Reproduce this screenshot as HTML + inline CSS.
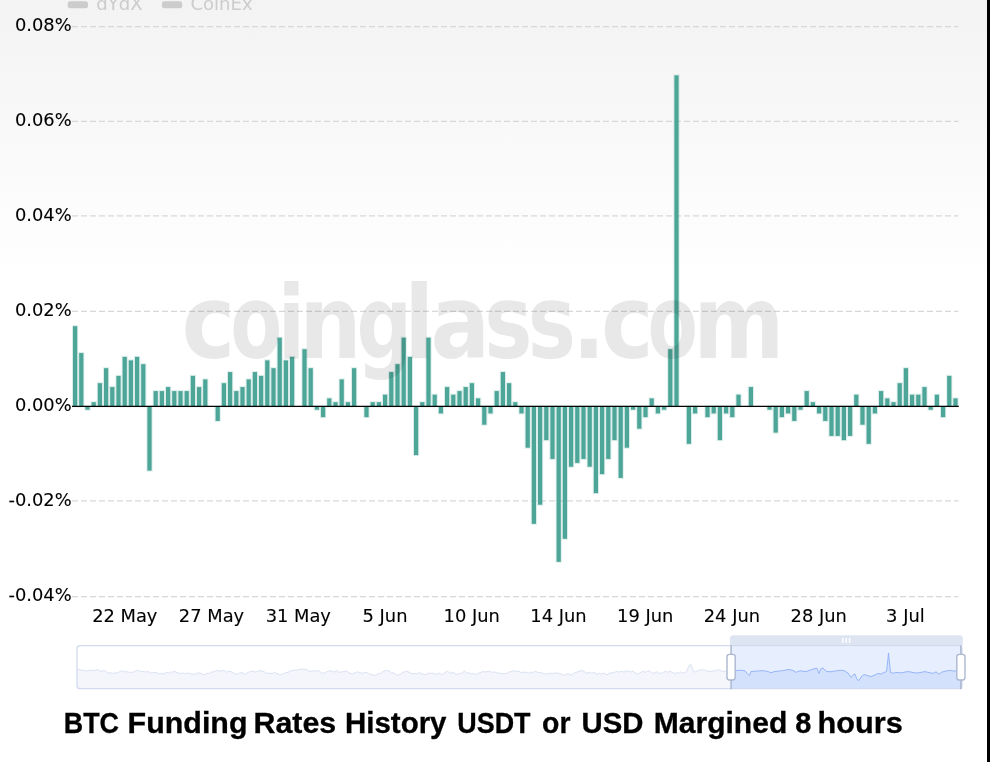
<!DOCTYPE html>
<html lang="en"><head><meta charset="utf-8"><title>BTC Funding Rates History</title>
<style>
html,body{margin:0;padding:0;background:#fff;}
body{width:990px;height:762px;overflow:hidden;position:relative;font-family:"DejaVu Sans","Liberation Sans",sans-serif;}
svg{position:absolute;left:0;top:0;display:block;}
.ax{font-family:"DejaVu Sans","Liberation Sans",sans-serif;font-size:17px;fill:#000;stroke:#000;stroke-width:0.1px;}
.lg{font-family:"DejaVu Sans","Liberation Sans",sans-serif;font-size:17.5px;fill:#ccc;}
.wm{font-family:"DejaVu Sans","Liberation Sans",sans-serif;font-weight:bold;fill:#000;fill-opacity:0.09;}
.tt{font-family:"Liberation Sans","DejaVu Sans",sans-serif;font-weight:bold;font-size:28.8px;fill:#000;stroke:#000;stroke-width:0.3px;}
</style></head><body>
<svg width="990" height="762" viewBox="0 0 990 762">
<defs><linearGradient id="bg" x1="0" y1="0" x2="0" y2="1"><stop offset="0" stop-color="#f3f3f3"/><stop offset="1" stop-color="#ffffff"/></linearGradient></defs>
<rect x="0" y="0" width="990" height="762" fill="#fff"/>
<rect x="0" y="0" width="990" height="278" fill="url(#bg)"/>
<g>
<rect x="67.7" y="1.3" width="20.3" height="7" rx="2.5" fill="#ccc"/>
<text class="lg" transform="translate(96.2,10) scale(1.034,1)">dYdX</text>
<rect x="161.9" y="1.3" width="20.3" height="7" rx="2.5" fill="#ccc"/>
<text class="lg" transform="translate(190.4,10) scale(1.034,1)">CoinEx</text>
</g>
<g stroke="#d8d8d8" stroke-width="1.3" stroke-dasharray="6 3" fill="none">
<line x1="72" y1="26.6" x2="958.5" y2="26.6"/>
<line x1="72" y1="121.3" x2="958.5" y2="121.3"/>
<line x1="72" y1="215.8" x2="958.5" y2="215.8"/>
<line x1="72" y1="311.3" x2="958.5" y2="311.3"/>
<line x1="72" y1="500.9" x2="958.5" y2="500.9"/>
<line x1="72" y1="596.7" x2="958.5" y2="596.7"/>
</g>
<g class="ax" text-anchor="end">
<text transform="translate(71.6,30.6) scale(1.05,1)">0.08%</text>
<text transform="translate(71.6,125.7) scale(1.05,1)">0.06%</text>
<text transform="translate(71.6,220.7) scale(1.05,1)">0.04%</text>
<text transform="translate(71.6,315.7) scale(1.05,1)">0.02%</text>
<text transform="translate(71.6,410.7) scale(1.05,1)">0.00%</text>
<text transform="translate(71.6,505.7) scale(1.05,1)">-0.02%</text>
<text transform="translate(71.6,600.8) scale(1.05,1)">-0.04%</text>
</g>
<g fill="#4da698" stroke="#4da698" stroke-opacity="0.2" stroke-width="2">
<rect x="73.0" y="326.2" width="4.2" height="80.2"/>
<rect x="79.2" y="353.1" width="4.2" height="53.3"/>
<rect x="85.4" y="406.4" width="4.2" height="3.3"/>
<rect x="91.6" y="402.2" width="4.2" height="4.2"/>
<rect x="97.8" y="383.2" width="4.2" height="23.2"/>
<rect x="104.0" y="368.2" width="4.2" height="38.2"/>
<rect x="110.2" y="387.1" width="4.2" height="19.3"/>
<rect x="116.4" y="375.9" width="4.2" height="30.5"/>
<rect x="122.6" y="356.9" width="4.2" height="49.5"/>
<rect x="128.8" y="360.4" width="4.2" height="46.0"/>
<rect x="135.0" y="356.9" width="4.2" height="49.5"/>
<rect x="141.2" y="364.2" width="4.2" height="42.2"/>
<rect x="147.4" y="406.4" width="4.2" height="64.2"/>
<rect x="153.6" y="391.1" width="4.2" height="15.3"/>
<rect x="159.8" y="391.1" width="4.2" height="15.3"/>
<rect x="166.0" y="387.1" width="4.2" height="19.3"/>
<rect x="172.2" y="391.1" width="4.2" height="15.3"/>
<rect x="178.4" y="391.1" width="4.2" height="15.3"/>
<rect x="184.6" y="391.1" width="4.2" height="15.3"/>
<rect x="190.8" y="375.9" width="4.2" height="30.5"/>
<rect x="197.0" y="387.1" width="4.2" height="19.3"/>
<rect x="203.2" y="379.4" width="4.2" height="27.0"/>
<rect x="215.6" y="406.4" width="4.2" height="14.5"/>
<rect x="221.8" y="383.2" width="4.2" height="23.2"/>
<rect x="228.0" y="372.1" width="4.2" height="34.3"/>
<rect x="234.2" y="391.1" width="4.2" height="15.3"/>
<rect x="240.4" y="387.1" width="4.2" height="19.3"/>
<rect x="246.6" y="379.4" width="4.2" height="27.0"/>
<rect x="252.8" y="372.1" width="4.2" height="34.3"/>
<rect x="259.0" y="375.9" width="4.2" height="30.5"/>
<rect x="265.2" y="360.4" width="4.2" height="46.0"/>
<rect x="271.4" y="368.2" width="4.2" height="38.2"/>
<rect x="277.6" y="337.7" width="4.2" height="68.7"/>
<rect x="283.8" y="360.4" width="4.2" height="46.0"/>
<rect x="290.0" y="356.9" width="4.2" height="49.5"/>
<rect x="302.4" y="349.2" width="4.2" height="57.2"/>
<rect x="308.6" y="368.2" width="4.2" height="38.2"/>
<rect x="314.8" y="406.4" width="4.2" height="3.3"/>
<rect x="321.0" y="406.4" width="4.2" height="10.7"/>
<rect x="327.2" y="398.4" width="4.2" height="8.0"/>
<rect x="333.4" y="402.2" width="4.2" height="4.2"/>
<rect x="339.6" y="379.4" width="4.2" height="27.0"/>
<rect x="345.8" y="402.2" width="4.2" height="4.2"/>
<rect x="352.0" y="368.2" width="4.2" height="38.2"/>
<rect x="364.4" y="406.4" width="4.2" height="10.7"/>
<rect x="370.6" y="402.2" width="4.2" height="4.2"/>
<rect x="376.8" y="402.2" width="4.2" height="4.2"/>
<rect x="383.0" y="394.7" width="4.2" height="11.7"/>
<rect x="389.2" y="372.1" width="4.2" height="34.3"/>
<rect x="395.4" y="364.2" width="4.2" height="42.2"/>
<rect x="401.6" y="337.7" width="4.2" height="68.7"/>
<rect x="407.8" y="356.9" width="4.2" height="49.5"/>
<rect x="414.0" y="406.4" width="4.2" height="48.7"/>
<rect x="420.2" y="402.2" width="4.2" height="4.2"/>
<rect x="426.4" y="337.7" width="4.2" height="68.7"/>
<rect x="432.6" y="394.7" width="4.2" height="11.7"/>
<rect x="438.8" y="406.4" width="4.2" height="7.0"/>
<rect x="445.0" y="387.1" width="4.2" height="19.3"/>
<rect x="451.2" y="394.7" width="4.2" height="11.7"/>
<rect x="457.4" y="391.1" width="4.2" height="15.3"/>
<rect x="463.6" y="387.1" width="4.2" height="19.3"/>
<rect x="469.8" y="383.2" width="4.2" height="23.2"/>
<rect x="476.0" y="398.4" width="4.2" height="8.0"/>
<rect x="482.2" y="406.4" width="4.2" height="18.3"/>
<rect x="488.4" y="406.4" width="4.2" height="7.0"/>
<rect x="494.6" y="391.1" width="4.2" height="15.3"/>
<rect x="500.8" y="372.1" width="4.2" height="34.3"/>
<rect x="507.0" y="383.2" width="4.2" height="23.2"/>
<rect x="513.2" y="402.2" width="4.2" height="4.2"/>
<rect x="519.4" y="406.4" width="4.2" height="7.0"/>
<rect x="525.6" y="406.4" width="4.2" height="41.3"/>
<rect x="531.8" y="406.4" width="4.2" height="117.4"/>
<rect x="538.0" y="406.4" width="4.2" height="98.3"/>
<rect x="544.2" y="406.4" width="4.2" height="33.7"/>
<rect x="550.4" y="406.4" width="4.2" height="52.5"/>
<rect x="556.6" y="406.4" width="4.2" height="155.4"/>
<rect x="562.8" y="406.4" width="4.2" height="132.4"/>
<rect x="569.0" y="406.4" width="4.2" height="60.3"/>
<rect x="575.2" y="406.4" width="4.2" height="56.5"/>
<rect x="581.4" y="406.4" width="4.2" height="52.5"/>
<rect x="587.6" y="406.4" width="4.2" height="60.3"/>
<rect x="593.8" y="406.4" width="4.2" height="86.7"/>
<rect x="600.0" y="406.4" width="4.2" height="67.7"/>
<rect x="606.2" y="406.4" width="4.2" height="52.5"/>
<rect x="612.4" y="406.4" width="4.2" height="33.7"/>
<rect x="618.6" y="406.4" width="4.2" height="71.5"/>
<rect x="624.8" y="406.4" width="4.2" height="41.3"/>
<rect x="631.0" y="406.4" width="4.2" height="3.3"/>
<rect x="637.2" y="406.4" width="4.2" height="22.3"/>
<rect x="643.4" y="406.4" width="4.2" height="10.7"/>
<rect x="649.6" y="398.4" width="4.2" height="8.0"/>
<rect x="655.8" y="406.4" width="4.2" height="7.0"/>
<rect x="662.0" y="406.4" width="4.2" height="3.3"/>
<rect x="668.2" y="349.2" width="4.2" height="57.2"/>
<rect x="674.4" y="75.4" width="4.2" height="331.0"/>
<rect x="686.8" y="406.4" width="4.2" height="37.4"/>
<rect x="693.0" y="406.4" width="4.2" height="7.0"/>
<rect x="705.4" y="406.4" width="4.2" height="10.7"/>
<rect x="711.6" y="406.4" width="4.2" height="7.0"/>
<rect x="717.8" y="406.4" width="4.2" height="33.7"/>
<rect x="724.0" y="406.4" width="4.2" height="7.0"/>
<rect x="730.2" y="406.4" width="4.2" height="10.7"/>
<rect x="736.4" y="394.7" width="4.2" height="11.7"/>
<rect x="748.8" y="387.1" width="4.2" height="19.3"/>
<rect x="767.4" y="406.4" width="4.2" height="3.3"/>
<rect x="773.6" y="406.4" width="4.2" height="26.2"/>
<rect x="779.8" y="406.4" width="4.2" height="10.7"/>
<rect x="786.0" y="406.4" width="4.2" height="7.0"/>
<rect x="792.2" y="406.4" width="4.2" height="14.5"/>
<rect x="798.4" y="406.4" width="4.2" height="3.3"/>
<rect x="804.6" y="391.1" width="4.2" height="15.3"/>
<rect x="810.8" y="402.2" width="4.2" height="4.2"/>
<rect x="817.0" y="406.4" width="4.2" height="7.0"/>
<rect x="823.2" y="406.4" width="4.2" height="14.5"/>
<rect x="829.4" y="406.4" width="4.2" height="29.5"/>
<rect x="835.6" y="406.4" width="4.2" height="29.5"/>
<rect x="841.8" y="406.4" width="4.2" height="33.7"/>
<rect x="848.0" y="406.4" width="4.2" height="29.5"/>
<rect x="854.2" y="394.7" width="4.2" height="11.7"/>
<rect x="860.4" y="406.4" width="4.2" height="18.3"/>
<rect x="866.6" y="406.4" width="4.2" height="37.4"/>
<rect x="872.8" y="406.4" width="4.2" height="7.0"/>
<rect x="879.0" y="391.1" width="4.2" height="15.3"/>
<rect x="885.2" y="398.4" width="4.2" height="8.0"/>
<rect x="891.4" y="402.2" width="4.2" height="4.2"/>
<rect x="897.6" y="383.2" width="4.2" height="23.2"/>
<rect x="903.8" y="368.2" width="4.2" height="38.2"/>
<rect x="910.0" y="394.7" width="4.2" height="11.7"/>
<rect x="916.2" y="394.7" width="4.2" height="11.7"/>
<rect x="922.4" y="387.1" width="4.2" height="19.3"/>
<rect x="928.6" y="406.4" width="4.2" height="3.3"/>
<rect x="934.8" y="394.7" width="4.2" height="11.7"/>
<rect x="941.0" y="406.4" width="4.2" height="10.7"/>
<rect x="947.2" y="375.9" width="4.2" height="30.5"/>
<rect x="953.4" y="398.4" width="4.2" height="8.0"/>
</g>
<line x1="72" y1="406.4" x2="958.8" y2="406.4" stroke="#000" stroke-width="1.3"/>
<text class="wm" font-size="102.4" y="358"><tspan x="181.4" textLength="53.9" lengthAdjust="spacingAndGlyphs">c</tspan><tspan x="230.2" textLength="52.0" lengthAdjust="spacingAndGlyphs">o</tspan><tspan x="277.5" textLength="27.9" lengthAdjust="spacingAndGlyphs">i</tspan><tspan x="299.2" textLength="62.5" lengthAdjust="spacingAndGlyphs">n</tspan><tspan x="356.4" textLength="55.6" lengthAdjust="spacingAndGlyphs">g</tspan><tspan x="404.2" textLength="29.9" lengthAdjust="spacingAndGlyphs">l</tspan><tspan x="430.5" textLength="59.6" lengthAdjust="spacingAndGlyphs">a</tspan><tspan x="484.3" textLength="48.2" lengthAdjust="spacingAndGlyphs">s</tspan><tspan x="527.7" textLength="48.2" lengthAdjust="spacingAndGlyphs">s</tspan><tspan x="572.1" textLength="33.6" lengthAdjust="spacingAndGlyphs">.</tspan><tspan x="600.9" textLength="52.7" lengthAdjust="spacingAndGlyphs">c</tspan><tspan x="647.5" textLength="50.5" lengthAdjust="spacingAndGlyphs">o</tspan><tspan x="693.2" textLength="91.2" lengthAdjust="spacingAndGlyphs">m</tspan></text>
<g class="ax" text-anchor="middle">
<text transform="translate(124.8,622.3) scale(1.05,1)">22 May</text>
<text transform="translate(211.5,622.3) scale(1.05,1)">27 May</text>
<text transform="translate(298.3,622.3) scale(1.05,1)">31 May</text>
<text transform="translate(385.0,622.3) scale(1.05,1)">5 Jun</text>
<text transform="translate(471.7,622.3) scale(1.05,1)">10 Jun</text>
<text transform="translate(558.5,622.3) scale(1.05,1)">14 Jun</text>
<text transform="translate(645.2,622.3) scale(1.05,1)">19 Jun</text>
<text transform="translate(731.9,622.3) scale(1.05,1)">24 Jun</text>
<text transform="translate(818.7,622.3) scale(1.05,1)">28 Jun</text>
<text transform="translate(905.4,622.3) scale(1.05,1)">3 Jul</text>
</g>
<g id="slider">
<clipPath id="cs"><rect x="731" y="645.7" width="230.6" height="43.0"/></clipPath>
<clipPath id="cu"><rect x="77.0" y="645.7" width="654.0" height="43.0"/></clipPath>
<clipPath id="cb"><rect x="77.0" y="645.7" width="885.0" height="43.0" rx="3"/></clipPath>
<rect x="77.0" y="645.7" width="885.0" height="43.0" rx="3" fill="#fff"/>
<g clip-path="url(#cb)">
<g clip-path="url(#cu)"><path d="M77.0 669.0 L78.7 669.5 L80.4 669.4 L82.1 670.6 L83.8 670.0 L85.5 670.7 L87.2 670.9 L88.9 670.2 L90.6 670.8 L92.3 670.1 L94.0 670.6 L95.7 670.0 L97.4 669.6 L99.1 670.2 L100.8 671.6 L102.5 670.9 L104.2 670.6 L105.9 671.4 L107.6 672.9 L109.3 673.0 L111.0 672.6 L112.7 673.8 L114.4 672.4 L116.1 673.3 L117.8 672.6 L119.5 671.7 L121.2 671.0 L122.9 670.9 L124.6 672.1 L126.3 671.4 L128.0 671.9 L129.7 672.5 L131.4 672.2 L133.1 672.4 L134.8 671.4 L136.5 670.6 L138.2 670.3 L139.9 671.4 L141.6 671.5 L143.3 671.3 L145.0 671.8 L146.7 671.9 L148.4 671.6 L150.1 672.6 L151.8 673.1 L153.5 672.3 L155.2 672.6 L156.9 672.6 L158.6 673.6 L160.3 673.9 L162.0 673.0 L163.7 674.1 L165.4 672.8 L167.1 672.5 L168.8 673.2 L170.5 672.2 L172.2 672.3 L173.9 671.2 L175.6 672.0 L177.3 672.8 L179.0 672.9 L180.7 673.8 L182.4 673.0 L184.1 673.4 L185.8 673.4 L187.5 673.4 L189.2 673.1 L190.9 673.8 L192.6 674.6 L194.3 674.1 L196.0 674.1 L197.7 672.6 L199.4 673.1 L201.1 673.4 L202.8 674.4 L204.5 674.8 L206.2 673.7 L207.9 673.1 L209.6 673.4 L211.3 672.0 L213.0 672.1 L214.7 671.4 L216.4 670.7 L218.1 670.1 L219.8 671.4 L221.5 670.8 L223.2 670.6 L224.9 670.8 L226.6 672.2 L228.3 671.2 L230.0 671.5 L231.7 671.9 L233.4 673.0 L235.1 673.7 L236.8 674.3 L238.5 673.4 L240.2 673.0 L241.9 672.5 L243.6 673.5 L245.3 674.4 L247.0 673.1 L248.7 672.2 L250.4 671.6 L252.1 671.2 L253.8 671.5 L255.5 672.0 L257.2 671.6 L258.9 670.6 L260.6 670.9 L262.3 671.0 L264.0 671.6 L265.7 672.9 L267.4 673.3 L269.1 673.2 L270.8 673.3 L272.5 673.6 L274.2 672.2 L275.9 673.3 L277.6 673.8 L279.3 674.5 L281.0 674.7 L282.7 673.9 L284.4 673.4 L286.1 672.2 L287.8 672.6 L289.5 671.5 L291.2 670.7 L292.9 670.5 L294.6 670.1 L296.3 670.4 L298.0 669.8 L299.7 669.3 L301.4 669.2 L303.1 669.1 L304.8 669.6 L306.5 669.2 L308.2 671.0 L309.9 671.7 L311.6 671.0 L313.3 670.8 L315.0 670.9 L316.7 671.0 L318.4 670.4 L320.1 671.8 L321.8 673.3 L323.5 673.0 L325.2 672.9 L326.9 671.8 L328.6 671.0 L330.3 671.0 L332.0 670.8 L333.7 672.1 L335.4 671.4 L337.1 670.5 L338.8 672.1 L340.5 672.3 L342.2 671.5 L343.9 671.9 L345.6 670.9 L347.3 671.4 L349.0 672.9 L350.7 673.7 L352.4 673.9 L354.1 673.0 L355.8 672.6 L357.5 671.7 L359.2 672.6 L360.9 672.7 L362.6 673.4 L364.3 672.8 L366.0 672.0 L367.7 672.9 L369.4 674.1 L371.1 674.6 L372.8 674.9 L374.5 675.1 L376.2 675.1 L377.9 673.8 L379.6 673.5 L381.3 672.9 L383.0 671.7 L384.7 670.7 L386.4 670.6 L388.1 670.5 L389.8 671.5 L391.5 672.9 L393.2 672.7 L394.9 673.8 L396.6 674.7 L398.3 675.3 L400.0 674.3 L401.7 673.2 L403.4 672.3 L405.1 671.7 L406.8 671.2 L408.5 671.8 L410.2 673.0 L411.9 673.8 L413.6 673.4 L415.3 673.6 L417.0 674.1 L418.7 672.7 L420.4 673.1 L422.1 674.0 L423.8 674.3 L425.5 674.5 L427.2 674.0 L428.9 672.8 L430.6 673.5 L432.3 672.9 L434.0 673.5 L435.7 674.5 L437.4 673.8 L439.1 673.2 L440.8 674.2 L442.5 674.3 L444.2 673.1 L445.9 672.0 L447.6 671.3 L449.3 672.6 L451.0 673.4 L452.7 672.3 L454.4 673.2 L456.1 674.3 L457.8 674.2 L459.5 673.4 L461.2 673.4 L462.9 672.2 L464.6 671.1 L466.3 672.7 L468.0 673.0 L469.7 673.0 L471.4 674.0 L473.1 673.5 L474.8 674.2 L476.5 674.6 L478.2 673.4 L479.9 672.6 L481.6 672.1 L483.3 671.5 L485.0 672.0 L486.7 671.6 L488.4 671.6 L490.1 670.9 L491.8 672.4 L493.5 672.1 L495.2 672.1 L496.9 672.4 L498.6 673.5 L500.3 673.1 L502.0 674.0 L503.7 673.6 L505.4 673.5 L507.1 673.3 L508.8 671.9 L510.5 671.9 L512.2 671.3 L513.9 670.4 L515.6 671.7 L517.3 671.1 L519.0 671.4 L520.7 672.3 L522.4 672.5 L524.1 672.1 L525.8 672.3 L527.5 672.5 L529.2 673.2 L530.9 672.1 L532.6 672.4 L534.3 671.8 L536.0 671.4 L537.7 672.4 L539.4 672.5 L541.1 672.7 L542.8 673.3 L544.5 674.2 L546.2 673.6 L547.9 673.6 L549.6 673.4 L551.3 673.2 L553.0 673.6 L554.7 673.2 L556.4 673.1 L558.1 672.9 L559.8 674.0 L561.5 674.1 L563.2 674.7 L564.9 675.3 L566.6 674.0 L568.3 673.8 L570.0 674.6 L571.7 675.0 L573.4 673.5 L575.1 672.3 L576.8 672.2 L578.5 671.3 L580.2 670.9 L581.9 670.3 L583.6 671.3 L585.3 672.3 L587.0 673.4 L588.7 672.3 L590.4 672.9 L592.1 673.3 L593.8 672.2 L595.5 673.3 L597.2 674.3 L598.9 673.1 L600.6 674.1 L602.3 673.5 L604.0 673.2 L605.7 674.3 L607.4 674.7 L609.1 673.3 L610.8 673.0 L612.5 672.9 L614.2 672.4 L615.9 671.7 L617.6 671.5 L619.3 672.3 L621.0 671.2 L622.7 671.7 L624.4 671.8 L626.1 670.8 L627.8 670.8 L629.5 671.6 L631.2 671.9 L632.9 670.9 L634.6 672.6 L636.3 673.3 L638.0 674.3 L639.7 672.9 L641.4 672.2 L643.1 671.2 L644.8 672.2 L646.5 671.7 L648.2 671.0 L649.9 671.2 L651.6 672.6 L653.3 673.4 L655.0 672.6 L656.7 671.7 L658.4 673.0 L660.1 673.1 L661.8 673.5 L663.5 672.2 L665.2 671.2 L666.9 672.0 L668.6 672.0 L670.3 671.1 L672.0 672.5 L673.7 672.9 L675.4 673.6 L677.1 672.3 L678.8 673.3 L680.5 672.0 L682.2 673.1 L683.9 672.8 L685.6 672.4 L687.3 670.0 L689.0 665.8 L690.7 664.0 L692.4 668.4 L694.1 672.1 L695.8 671.6 L697.5 670.8 L699.2 670.4 L700.9 669.9 L702.6 669.8 L704.3 670.0 L706.0 670.2 L707.7 671.4 L709.4 671.2 L711.1 671.6 L712.8 671.0 L714.5 671.0 L716.2 670.2 L717.9 670.2 L719.6 669.6 L721.3 670.9 L723.0 671.5 L724.7 671.0 L726.4 671.3 L728.1 672.7 L729.8 671.7 L731.0 671.0 L736.0 670.6 L741.0 670.2 L745.0 670.8 L747.5 673.8 L749.5 675.5 L751.0 671.5 L756.0 671.2 L762.0 670.6 L767.0 671.3 L771.0 672.6 L775.0 671.5 L780.0 671.0 L785.0 670.2 L789.0 669.5 L793.0 670.4 L796.0 672.3 L800.0 670.8 L806.0 671.6 L810.0 670.2 L814.0 668.8 L817.0 668.2 L819.0 673.5 L821.0 668.4 L823.0 668.0 L826.0 671.2 L830.0 671.8 L835.0 671.0 L840.0 670.3 L844.0 670.6 L848.0 673.0 L851.0 677.5 L853.0 675.0 L855.0 674.0 L857.0 679.5 L859.0 680.5 L861.0 677.0 L864.0 674.5 L868.0 675.8 L871.0 676.5 L875.0 675.0 L878.0 673.5 L881.0 674.0 L884.0 672.6 L886.5 671.5 L887.6 662.0 L888.5 653.0 L889.4 662.0 L890.5 672.5 L893.0 673.2 L897.0 672.4 L901.0 672.9 L905.0 672.0 L909.0 671.6 L913.0 672.6 L917.0 673.0 L921.0 672.4 L925.0 671.6 L929.0 672.6 L933.0 673.4 L936.0 671.8 L939.0 674.2 L942.0 672.0 L946.0 671.0 L950.0 670.4 L954.0 671.0 L958.0 671.2 L961.5 670.6 L961.5 688.7 L77.0 688.7 Z" fill="#d2dbee" fill-opacity="0.24"/><path d="M77.0 669.0 L78.7 669.5 L80.4 669.4 L82.1 670.6 L83.8 670.0 L85.5 670.7 L87.2 670.9 L88.9 670.2 L90.6 670.8 L92.3 670.1 L94.0 670.6 L95.7 670.0 L97.4 669.6 L99.1 670.2 L100.8 671.6 L102.5 670.9 L104.2 670.6 L105.9 671.4 L107.6 672.9 L109.3 673.0 L111.0 672.6 L112.7 673.8 L114.4 672.4 L116.1 673.3 L117.8 672.6 L119.5 671.7 L121.2 671.0 L122.9 670.9 L124.6 672.1 L126.3 671.4 L128.0 671.9 L129.7 672.5 L131.4 672.2 L133.1 672.4 L134.8 671.4 L136.5 670.6 L138.2 670.3 L139.9 671.4 L141.6 671.5 L143.3 671.3 L145.0 671.8 L146.7 671.9 L148.4 671.6 L150.1 672.6 L151.8 673.1 L153.5 672.3 L155.2 672.6 L156.9 672.6 L158.6 673.6 L160.3 673.9 L162.0 673.0 L163.7 674.1 L165.4 672.8 L167.1 672.5 L168.8 673.2 L170.5 672.2 L172.2 672.3 L173.9 671.2 L175.6 672.0 L177.3 672.8 L179.0 672.9 L180.7 673.8 L182.4 673.0 L184.1 673.4 L185.8 673.4 L187.5 673.4 L189.2 673.1 L190.9 673.8 L192.6 674.6 L194.3 674.1 L196.0 674.1 L197.7 672.6 L199.4 673.1 L201.1 673.4 L202.8 674.4 L204.5 674.8 L206.2 673.7 L207.9 673.1 L209.6 673.4 L211.3 672.0 L213.0 672.1 L214.7 671.4 L216.4 670.7 L218.1 670.1 L219.8 671.4 L221.5 670.8 L223.2 670.6 L224.9 670.8 L226.6 672.2 L228.3 671.2 L230.0 671.5 L231.7 671.9 L233.4 673.0 L235.1 673.7 L236.8 674.3 L238.5 673.4 L240.2 673.0 L241.9 672.5 L243.6 673.5 L245.3 674.4 L247.0 673.1 L248.7 672.2 L250.4 671.6 L252.1 671.2 L253.8 671.5 L255.5 672.0 L257.2 671.6 L258.9 670.6 L260.6 670.9 L262.3 671.0 L264.0 671.6 L265.7 672.9 L267.4 673.3 L269.1 673.2 L270.8 673.3 L272.5 673.6 L274.2 672.2 L275.9 673.3 L277.6 673.8 L279.3 674.5 L281.0 674.7 L282.7 673.9 L284.4 673.4 L286.1 672.2 L287.8 672.6 L289.5 671.5 L291.2 670.7 L292.9 670.5 L294.6 670.1 L296.3 670.4 L298.0 669.8 L299.7 669.3 L301.4 669.2 L303.1 669.1 L304.8 669.6 L306.5 669.2 L308.2 671.0 L309.9 671.7 L311.6 671.0 L313.3 670.8 L315.0 670.9 L316.7 671.0 L318.4 670.4 L320.1 671.8 L321.8 673.3 L323.5 673.0 L325.2 672.9 L326.9 671.8 L328.6 671.0 L330.3 671.0 L332.0 670.8 L333.7 672.1 L335.4 671.4 L337.1 670.5 L338.8 672.1 L340.5 672.3 L342.2 671.5 L343.9 671.9 L345.6 670.9 L347.3 671.4 L349.0 672.9 L350.7 673.7 L352.4 673.9 L354.1 673.0 L355.8 672.6 L357.5 671.7 L359.2 672.6 L360.9 672.7 L362.6 673.4 L364.3 672.8 L366.0 672.0 L367.7 672.9 L369.4 674.1 L371.1 674.6 L372.8 674.9 L374.5 675.1 L376.2 675.1 L377.9 673.8 L379.6 673.5 L381.3 672.9 L383.0 671.7 L384.7 670.7 L386.4 670.6 L388.1 670.5 L389.8 671.5 L391.5 672.9 L393.2 672.7 L394.9 673.8 L396.6 674.7 L398.3 675.3 L400.0 674.3 L401.7 673.2 L403.4 672.3 L405.1 671.7 L406.8 671.2 L408.5 671.8 L410.2 673.0 L411.9 673.8 L413.6 673.4 L415.3 673.6 L417.0 674.1 L418.7 672.7 L420.4 673.1 L422.1 674.0 L423.8 674.3 L425.5 674.5 L427.2 674.0 L428.9 672.8 L430.6 673.5 L432.3 672.9 L434.0 673.5 L435.7 674.5 L437.4 673.8 L439.1 673.2 L440.8 674.2 L442.5 674.3 L444.2 673.1 L445.9 672.0 L447.6 671.3 L449.3 672.6 L451.0 673.4 L452.7 672.3 L454.4 673.2 L456.1 674.3 L457.8 674.2 L459.5 673.4 L461.2 673.4 L462.9 672.2 L464.6 671.1 L466.3 672.7 L468.0 673.0 L469.7 673.0 L471.4 674.0 L473.1 673.5 L474.8 674.2 L476.5 674.6 L478.2 673.4 L479.9 672.6 L481.6 672.1 L483.3 671.5 L485.0 672.0 L486.7 671.6 L488.4 671.6 L490.1 670.9 L491.8 672.4 L493.5 672.1 L495.2 672.1 L496.9 672.4 L498.6 673.5 L500.3 673.1 L502.0 674.0 L503.7 673.6 L505.4 673.5 L507.1 673.3 L508.8 671.9 L510.5 671.9 L512.2 671.3 L513.9 670.4 L515.6 671.7 L517.3 671.1 L519.0 671.4 L520.7 672.3 L522.4 672.5 L524.1 672.1 L525.8 672.3 L527.5 672.5 L529.2 673.2 L530.9 672.1 L532.6 672.4 L534.3 671.8 L536.0 671.4 L537.7 672.4 L539.4 672.5 L541.1 672.7 L542.8 673.3 L544.5 674.2 L546.2 673.6 L547.9 673.6 L549.6 673.4 L551.3 673.2 L553.0 673.6 L554.7 673.2 L556.4 673.1 L558.1 672.9 L559.8 674.0 L561.5 674.1 L563.2 674.7 L564.9 675.3 L566.6 674.0 L568.3 673.8 L570.0 674.6 L571.7 675.0 L573.4 673.5 L575.1 672.3 L576.8 672.2 L578.5 671.3 L580.2 670.9 L581.9 670.3 L583.6 671.3 L585.3 672.3 L587.0 673.4 L588.7 672.3 L590.4 672.9 L592.1 673.3 L593.8 672.2 L595.5 673.3 L597.2 674.3 L598.9 673.1 L600.6 674.1 L602.3 673.5 L604.0 673.2 L605.7 674.3 L607.4 674.7 L609.1 673.3 L610.8 673.0 L612.5 672.9 L614.2 672.4 L615.9 671.7 L617.6 671.5 L619.3 672.3 L621.0 671.2 L622.7 671.7 L624.4 671.8 L626.1 670.8 L627.8 670.8 L629.5 671.6 L631.2 671.9 L632.9 670.9 L634.6 672.6 L636.3 673.3 L638.0 674.3 L639.7 672.9 L641.4 672.2 L643.1 671.2 L644.8 672.2 L646.5 671.7 L648.2 671.0 L649.9 671.2 L651.6 672.6 L653.3 673.4 L655.0 672.6 L656.7 671.7 L658.4 673.0 L660.1 673.1 L661.8 673.5 L663.5 672.2 L665.2 671.2 L666.9 672.0 L668.6 672.0 L670.3 671.1 L672.0 672.5 L673.7 672.9 L675.4 673.6 L677.1 672.3 L678.8 673.3 L680.5 672.0 L682.2 673.1 L683.9 672.8 L685.6 672.4 L687.3 670.0 L689.0 665.8 L690.7 664.0 L692.4 668.4 L694.1 672.1 L695.8 671.6 L697.5 670.8 L699.2 670.4 L700.9 669.9 L702.6 669.8 L704.3 670.0 L706.0 670.2 L707.7 671.4 L709.4 671.2 L711.1 671.6 L712.8 671.0 L714.5 671.0 L716.2 670.2 L717.9 670.2 L719.6 669.6 L721.3 670.9 L723.0 671.5 L724.7 671.0 L726.4 671.3 L728.1 672.7 L729.8 671.7 L731.0 671.0 L736.0 670.6 L741.0 670.2 L745.0 670.8 L747.5 673.8 L749.5 675.5 L751.0 671.5 L756.0 671.2 L762.0 670.6 L767.0 671.3 L771.0 672.6 L775.0 671.5 L780.0 671.0 L785.0 670.2 L789.0 669.5 L793.0 670.4 L796.0 672.3 L800.0 670.8 L806.0 671.6 L810.0 670.2 L814.0 668.8 L817.0 668.2 L819.0 673.5 L821.0 668.4 L823.0 668.0 L826.0 671.2 L830.0 671.8 L835.0 671.0 L840.0 670.3 L844.0 670.6 L848.0 673.0 L851.0 677.5 L853.0 675.0 L855.0 674.0 L857.0 679.5 L859.0 680.5 L861.0 677.0 L864.0 674.5 L868.0 675.8 L871.0 676.5 L875.0 675.0 L878.0 673.5 L881.0 674.0 L884.0 672.6 L886.5 671.5 L887.6 662.0 L888.5 653.0 L889.4 662.0 L890.5 672.5 L893.0 673.2 L897.0 672.4 L901.0 672.9 L905.0 672.0 L909.0 671.6 L913.0 672.6 L917.0 673.0 L921.0 672.4 L925.0 671.6 L929.0 672.6 L933.0 673.4 L936.0 671.8 L939.0 674.2 L942.0 672.0 L946.0 671.0 L950.0 670.4 L954.0 671.0 L958.0 671.2 L961.5 670.6" fill="none" stroke="#d2dbee" stroke-opacity="0.8" stroke-width="1"/></g>
<rect x="731" y="645.7" width="230.6" height="43.0" fill="#87afff" fill-opacity="0.2"/>
<g clip-path="url(#cs)"><path d="M77.0 669.0 L78.7 669.5 L80.4 669.4 L82.1 670.6 L83.8 670.0 L85.5 670.7 L87.2 670.9 L88.9 670.2 L90.6 670.8 L92.3 670.1 L94.0 670.6 L95.7 670.0 L97.4 669.6 L99.1 670.2 L100.8 671.6 L102.5 670.9 L104.2 670.6 L105.9 671.4 L107.6 672.9 L109.3 673.0 L111.0 672.6 L112.7 673.8 L114.4 672.4 L116.1 673.3 L117.8 672.6 L119.5 671.7 L121.2 671.0 L122.9 670.9 L124.6 672.1 L126.3 671.4 L128.0 671.9 L129.7 672.5 L131.4 672.2 L133.1 672.4 L134.8 671.4 L136.5 670.6 L138.2 670.3 L139.9 671.4 L141.6 671.5 L143.3 671.3 L145.0 671.8 L146.7 671.9 L148.4 671.6 L150.1 672.6 L151.8 673.1 L153.5 672.3 L155.2 672.6 L156.9 672.6 L158.6 673.6 L160.3 673.9 L162.0 673.0 L163.7 674.1 L165.4 672.8 L167.1 672.5 L168.8 673.2 L170.5 672.2 L172.2 672.3 L173.9 671.2 L175.6 672.0 L177.3 672.8 L179.0 672.9 L180.7 673.8 L182.4 673.0 L184.1 673.4 L185.8 673.4 L187.5 673.4 L189.2 673.1 L190.9 673.8 L192.6 674.6 L194.3 674.1 L196.0 674.1 L197.7 672.6 L199.4 673.1 L201.1 673.4 L202.8 674.4 L204.5 674.8 L206.2 673.7 L207.9 673.1 L209.6 673.4 L211.3 672.0 L213.0 672.1 L214.7 671.4 L216.4 670.7 L218.1 670.1 L219.8 671.4 L221.5 670.8 L223.2 670.6 L224.9 670.8 L226.6 672.2 L228.3 671.2 L230.0 671.5 L231.7 671.9 L233.4 673.0 L235.1 673.7 L236.8 674.3 L238.5 673.4 L240.2 673.0 L241.9 672.5 L243.6 673.5 L245.3 674.4 L247.0 673.1 L248.7 672.2 L250.4 671.6 L252.1 671.2 L253.8 671.5 L255.5 672.0 L257.2 671.6 L258.9 670.6 L260.6 670.9 L262.3 671.0 L264.0 671.6 L265.7 672.9 L267.4 673.3 L269.1 673.2 L270.8 673.3 L272.5 673.6 L274.2 672.2 L275.9 673.3 L277.6 673.8 L279.3 674.5 L281.0 674.7 L282.7 673.9 L284.4 673.4 L286.1 672.2 L287.8 672.6 L289.5 671.5 L291.2 670.7 L292.9 670.5 L294.6 670.1 L296.3 670.4 L298.0 669.8 L299.7 669.3 L301.4 669.2 L303.1 669.1 L304.8 669.6 L306.5 669.2 L308.2 671.0 L309.9 671.7 L311.6 671.0 L313.3 670.8 L315.0 670.9 L316.7 671.0 L318.4 670.4 L320.1 671.8 L321.8 673.3 L323.5 673.0 L325.2 672.9 L326.9 671.8 L328.6 671.0 L330.3 671.0 L332.0 670.8 L333.7 672.1 L335.4 671.4 L337.1 670.5 L338.8 672.1 L340.5 672.3 L342.2 671.5 L343.9 671.9 L345.6 670.9 L347.3 671.4 L349.0 672.9 L350.7 673.7 L352.4 673.9 L354.1 673.0 L355.8 672.6 L357.5 671.7 L359.2 672.6 L360.9 672.7 L362.6 673.4 L364.3 672.8 L366.0 672.0 L367.7 672.9 L369.4 674.1 L371.1 674.6 L372.8 674.9 L374.5 675.1 L376.2 675.1 L377.9 673.8 L379.6 673.5 L381.3 672.9 L383.0 671.7 L384.7 670.7 L386.4 670.6 L388.1 670.5 L389.8 671.5 L391.5 672.9 L393.2 672.7 L394.9 673.8 L396.6 674.7 L398.3 675.3 L400.0 674.3 L401.7 673.2 L403.4 672.3 L405.1 671.7 L406.8 671.2 L408.5 671.8 L410.2 673.0 L411.9 673.8 L413.6 673.4 L415.3 673.6 L417.0 674.1 L418.7 672.7 L420.4 673.1 L422.1 674.0 L423.8 674.3 L425.5 674.5 L427.2 674.0 L428.9 672.8 L430.6 673.5 L432.3 672.9 L434.0 673.5 L435.7 674.5 L437.4 673.8 L439.1 673.2 L440.8 674.2 L442.5 674.3 L444.2 673.1 L445.9 672.0 L447.6 671.3 L449.3 672.6 L451.0 673.4 L452.7 672.3 L454.4 673.2 L456.1 674.3 L457.8 674.2 L459.5 673.4 L461.2 673.4 L462.9 672.2 L464.6 671.1 L466.3 672.7 L468.0 673.0 L469.7 673.0 L471.4 674.0 L473.1 673.5 L474.8 674.2 L476.5 674.6 L478.2 673.4 L479.9 672.6 L481.6 672.1 L483.3 671.5 L485.0 672.0 L486.7 671.6 L488.4 671.6 L490.1 670.9 L491.8 672.4 L493.5 672.1 L495.2 672.1 L496.9 672.4 L498.6 673.5 L500.3 673.1 L502.0 674.0 L503.7 673.6 L505.4 673.5 L507.1 673.3 L508.8 671.9 L510.5 671.9 L512.2 671.3 L513.9 670.4 L515.6 671.7 L517.3 671.1 L519.0 671.4 L520.7 672.3 L522.4 672.5 L524.1 672.1 L525.8 672.3 L527.5 672.5 L529.2 673.2 L530.9 672.1 L532.6 672.4 L534.3 671.8 L536.0 671.4 L537.7 672.4 L539.4 672.5 L541.1 672.7 L542.8 673.3 L544.5 674.2 L546.2 673.6 L547.9 673.6 L549.6 673.4 L551.3 673.2 L553.0 673.6 L554.7 673.2 L556.4 673.1 L558.1 672.9 L559.8 674.0 L561.5 674.1 L563.2 674.7 L564.9 675.3 L566.6 674.0 L568.3 673.8 L570.0 674.6 L571.7 675.0 L573.4 673.5 L575.1 672.3 L576.8 672.2 L578.5 671.3 L580.2 670.9 L581.9 670.3 L583.6 671.3 L585.3 672.3 L587.0 673.4 L588.7 672.3 L590.4 672.9 L592.1 673.3 L593.8 672.2 L595.5 673.3 L597.2 674.3 L598.9 673.1 L600.6 674.1 L602.3 673.5 L604.0 673.2 L605.7 674.3 L607.4 674.7 L609.1 673.3 L610.8 673.0 L612.5 672.9 L614.2 672.4 L615.9 671.7 L617.6 671.5 L619.3 672.3 L621.0 671.2 L622.7 671.7 L624.4 671.8 L626.1 670.8 L627.8 670.8 L629.5 671.6 L631.2 671.9 L632.9 670.9 L634.6 672.6 L636.3 673.3 L638.0 674.3 L639.7 672.9 L641.4 672.2 L643.1 671.2 L644.8 672.2 L646.5 671.7 L648.2 671.0 L649.9 671.2 L651.6 672.6 L653.3 673.4 L655.0 672.6 L656.7 671.7 L658.4 673.0 L660.1 673.1 L661.8 673.5 L663.5 672.2 L665.2 671.2 L666.9 672.0 L668.6 672.0 L670.3 671.1 L672.0 672.5 L673.7 672.9 L675.4 673.6 L677.1 672.3 L678.8 673.3 L680.5 672.0 L682.2 673.1 L683.9 672.8 L685.6 672.4 L687.3 670.0 L689.0 665.8 L690.7 664.0 L692.4 668.4 L694.1 672.1 L695.8 671.6 L697.5 670.8 L699.2 670.4 L700.9 669.9 L702.6 669.8 L704.3 670.0 L706.0 670.2 L707.7 671.4 L709.4 671.2 L711.1 671.6 L712.8 671.0 L714.5 671.0 L716.2 670.2 L717.9 670.2 L719.6 669.6 L721.3 670.9 L723.0 671.5 L724.7 671.0 L726.4 671.3 L728.1 672.7 L729.8 671.7 L731.0 671.0 L736.0 670.6 L741.0 670.2 L745.0 670.8 L747.5 673.8 L749.5 675.5 L751.0 671.5 L756.0 671.2 L762.0 670.6 L767.0 671.3 L771.0 672.6 L775.0 671.5 L780.0 671.0 L785.0 670.2 L789.0 669.5 L793.0 670.4 L796.0 672.3 L800.0 670.8 L806.0 671.6 L810.0 670.2 L814.0 668.8 L817.0 668.2 L819.0 673.5 L821.0 668.4 L823.0 668.0 L826.0 671.2 L830.0 671.8 L835.0 671.0 L840.0 670.3 L844.0 670.6 L848.0 673.0 L851.0 677.5 L853.0 675.0 L855.0 674.0 L857.0 679.5 L859.0 680.5 L861.0 677.0 L864.0 674.5 L868.0 675.8 L871.0 676.5 L875.0 675.0 L878.0 673.5 L881.0 674.0 L884.0 672.6 L886.5 671.5 L887.6 662.0 L888.5 653.0 L889.4 662.0 L890.5 672.5 L893.0 673.2 L897.0 672.4 L901.0 672.9 L905.0 672.0 L909.0 671.6 L913.0 672.6 L917.0 673.0 L921.0 672.4 L925.0 671.6 L929.0 672.6 L933.0 673.4 L936.0 671.8 L939.0 674.2 L942.0 672.0 L946.0 671.0 L950.0 670.4 L954.0 671.0 L958.0 671.2 L961.5 670.6 L961.5 688.7 L77.0 688.7 Z" fill="#8fb0f7" fill-opacity="0.22"/><path d="M77.0 669.0 L78.7 669.5 L80.4 669.4 L82.1 670.6 L83.8 670.0 L85.5 670.7 L87.2 670.9 L88.9 670.2 L90.6 670.8 L92.3 670.1 L94.0 670.6 L95.7 670.0 L97.4 669.6 L99.1 670.2 L100.8 671.6 L102.5 670.9 L104.2 670.6 L105.9 671.4 L107.6 672.9 L109.3 673.0 L111.0 672.6 L112.7 673.8 L114.4 672.4 L116.1 673.3 L117.8 672.6 L119.5 671.7 L121.2 671.0 L122.9 670.9 L124.6 672.1 L126.3 671.4 L128.0 671.9 L129.7 672.5 L131.4 672.2 L133.1 672.4 L134.8 671.4 L136.5 670.6 L138.2 670.3 L139.9 671.4 L141.6 671.5 L143.3 671.3 L145.0 671.8 L146.7 671.9 L148.4 671.6 L150.1 672.6 L151.8 673.1 L153.5 672.3 L155.2 672.6 L156.9 672.6 L158.6 673.6 L160.3 673.9 L162.0 673.0 L163.7 674.1 L165.4 672.8 L167.1 672.5 L168.8 673.2 L170.5 672.2 L172.2 672.3 L173.9 671.2 L175.6 672.0 L177.3 672.8 L179.0 672.9 L180.7 673.8 L182.4 673.0 L184.1 673.4 L185.8 673.4 L187.5 673.4 L189.2 673.1 L190.9 673.8 L192.6 674.6 L194.3 674.1 L196.0 674.1 L197.7 672.6 L199.4 673.1 L201.1 673.4 L202.8 674.4 L204.5 674.8 L206.2 673.7 L207.9 673.1 L209.6 673.4 L211.3 672.0 L213.0 672.1 L214.7 671.4 L216.4 670.7 L218.1 670.1 L219.8 671.4 L221.5 670.8 L223.2 670.6 L224.9 670.8 L226.6 672.2 L228.3 671.2 L230.0 671.5 L231.7 671.9 L233.4 673.0 L235.1 673.7 L236.8 674.3 L238.5 673.4 L240.2 673.0 L241.9 672.5 L243.6 673.5 L245.3 674.4 L247.0 673.1 L248.7 672.2 L250.4 671.6 L252.1 671.2 L253.8 671.5 L255.5 672.0 L257.2 671.6 L258.9 670.6 L260.6 670.9 L262.3 671.0 L264.0 671.6 L265.7 672.9 L267.4 673.3 L269.1 673.2 L270.8 673.3 L272.5 673.6 L274.2 672.2 L275.9 673.3 L277.6 673.8 L279.3 674.5 L281.0 674.7 L282.7 673.9 L284.4 673.4 L286.1 672.2 L287.8 672.6 L289.5 671.5 L291.2 670.7 L292.9 670.5 L294.6 670.1 L296.3 670.4 L298.0 669.8 L299.7 669.3 L301.4 669.2 L303.1 669.1 L304.8 669.6 L306.5 669.2 L308.2 671.0 L309.9 671.7 L311.6 671.0 L313.3 670.8 L315.0 670.9 L316.7 671.0 L318.4 670.4 L320.1 671.8 L321.8 673.3 L323.5 673.0 L325.2 672.9 L326.9 671.8 L328.6 671.0 L330.3 671.0 L332.0 670.8 L333.7 672.1 L335.4 671.4 L337.1 670.5 L338.8 672.1 L340.5 672.3 L342.2 671.5 L343.9 671.9 L345.6 670.9 L347.3 671.4 L349.0 672.9 L350.7 673.7 L352.4 673.9 L354.1 673.0 L355.8 672.6 L357.5 671.7 L359.2 672.6 L360.9 672.7 L362.6 673.4 L364.3 672.8 L366.0 672.0 L367.7 672.9 L369.4 674.1 L371.1 674.6 L372.8 674.9 L374.5 675.1 L376.2 675.1 L377.9 673.8 L379.6 673.5 L381.3 672.9 L383.0 671.7 L384.7 670.7 L386.4 670.6 L388.1 670.5 L389.8 671.5 L391.5 672.9 L393.2 672.7 L394.9 673.8 L396.6 674.7 L398.3 675.3 L400.0 674.3 L401.7 673.2 L403.4 672.3 L405.1 671.7 L406.8 671.2 L408.5 671.8 L410.2 673.0 L411.9 673.8 L413.6 673.4 L415.3 673.6 L417.0 674.1 L418.7 672.7 L420.4 673.1 L422.1 674.0 L423.8 674.3 L425.5 674.5 L427.2 674.0 L428.9 672.8 L430.6 673.5 L432.3 672.9 L434.0 673.5 L435.7 674.5 L437.4 673.8 L439.1 673.2 L440.8 674.2 L442.5 674.3 L444.2 673.1 L445.9 672.0 L447.6 671.3 L449.3 672.6 L451.0 673.4 L452.7 672.3 L454.4 673.2 L456.1 674.3 L457.8 674.2 L459.5 673.4 L461.2 673.4 L462.9 672.2 L464.6 671.1 L466.3 672.7 L468.0 673.0 L469.7 673.0 L471.4 674.0 L473.1 673.5 L474.8 674.2 L476.5 674.6 L478.2 673.4 L479.9 672.6 L481.6 672.1 L483.3 671.5 L485.0 672.0 L486.7 671.6 L488.4 671.6 L490.1 670.9 L491.8 672.4 L493.5 672.1 L495.2 672.1 L496.9 672.4 L498.6 673.5 L500.3 673.1 L502.0 674.0 L503.7 673.6 L505.4 673.5 L507.1 673.3 L508.8 671.9 L510.5 671.9 L512.2 671.3 L513.9 670.4 L515.6 671.7 L517.3 671.1 L519.0 671.4 L520.7 672.3 L522.4 672.5 L524.1 672.1 L525.8 672.3 L527.5 672.5 L529.2 673.2 L530.9 672.1 L532.6 672.4 L534.3 671.8 L536.0 671.4 L537.7 672.4 L539.4 672.5 L541.1 672.7 L542.8 673.3 L544.5 674.2 L546.2 673.6 L547.9 673.6 L549.6 673.4 L551.3 673.2 L553.0 673.6 L554.7 673.2 L556.4 673.1 L558.1 672.9 L559.8 674.0 L561.5 674.1 L563.2 674.7 L564.9 675.3 L566.6 674.0 L568.3 673.8 L570.0 674.6 L571.7 675.0 L573.4 673.5 L575.1 672.3 L576.8 672.2 L578.5 671.3 L580.2 670.9 L581.9 670.3 L583.6 671.3 L585.3 672.3 L587.0 673.4 L588.7 672.3 L590.4 672.9 L592.1 673.3 L593.8 672.2 L595.5 673.3 L597.2 674.3 L598.9 673.1 L600.6 674.1 L602.3 673.5 L604.0 673.2 L605.7 674.3 L607.4 674.7 L609.1 673.3 L610.8 673.0 L612.5 672.9 L614.2 672.4 L615.9 671.7 L617.6 671.5 L619.3 672.3 L621.0 671.2 L622.7 671.7 L624.4 671.8 L626.1 670.8 L627.8 670.8 L629.5 671.6 L631.2 671.9 L632.9 670.9 L634.6 672.6 L636.3 673.3 L638.0 674.3 L639.7 672.9 L641.4 672.2 L643.1 671.2 L644.8 672.2 L646.5 671.7 L648.2 671.0 L649.9 671.2 L651.6 672.6 L653.3 673.4 L655.0 672.6 L656.7 671.7 L658.4 673.0 L660.1 673.1 L661.8 673.5 L663.5 672.2 L665.2 671.2 L666.9 672.0 L668.6 672.0 L670.3 671.1 L672.0 672.5 L673.7 672.9 L675.4 673.6 L677.1 672.3 L678.8 673.3 L680.5 672.0 L682.2 673.1 L683.9 672.8 L685.6 672.4 L687.3 670.0 L689.0 665.8 L690.7 664.0 L692.4 668.4 L694.1 672.1 L695.8 671.6 L697.5 670.8 L699.2 670.4 L700.9 669.9 L702.6 669.8 L704.3 670.0 L706.0 670.2 L707.7 671.4 L709.4 671.2 L711.1 671.6 L712.8 671.0 L714.5 671.0 L716.2 670.2 L717.9 670.2 L719.6 669.6 L721.3 670.9 L723.0 671.5 L724.7 671.0 L726.4 671.3 L728.1 672.7 L729.8 671.7 L731.0 671.0 L736.0 670.6 L741.0 670.2 L745.0 670.8 L747.5 673.8 L749.5 675.5 L751.0 671.5 L756.0 671.2 L762.0 670.6 L767.0 671.3 L771.0 672.6 L775.0 671.5 L780.0 671.0 L785.0 670.2 L789.0 669.5 L793.0 670.4 L796.0 672.3 L800.0 670.8 L806.0 671.6 L810.0 670.2 L814.0 668.8 L817.0 668.2 L819.0 673.5 L821.0 668.4 L823.0 668.0 L826.0 671.2 L830.0 671.8 L835.0 671.0 L840.0 670.3 L844.0 670.6 L848.0 673.0 L851.0 677.5 L853.0 675.0 L855.0 674.0 L857.0 679.5 L859.0 680.5 L861.0 677.0 L864.0 674.5 L868.0 675.8 L871.0 676.5 L875.0 675.0 L878.0 673.5 L881.0 674.0 L884.0 672.6 L886.5 671.5 L887.6 662.0 L888.5 653.0 L889.4 662.0 L890.5 672.5 L893.0 673.2 L897.0 672.4 L901.0 672.9 L905.0 672.0 L909.0 671.6 L913.0 672.6 L917.0 673.0 L921.0 672.4 L925.0 671.6 L929.0 672.6 L933.0 673.4 L936.0 671.8 L939.0 674.2 L942.0 672.0 L946.0 671.0 L950.0 670.4 L954.0 671.0 L958.0 671.2 L961.5 670.6" fill="none" stroke="#8fb0f7" stroke-opacity="0.9" stroke-width="1"/></g>
</g>
<rect x="77.0" y="645.7" width="885.0" height="43.0" rx="3" fill="none" stroke="#d2dbee" stroke-width="1.3"/>
<path d="M730 645.4 V638.2 a3 3 0 0 1 3 -3 H959.8 a3 3 0 0 1 3 3 V645.4 Z" fill="#d2dbee" fill-opacity="0.75"/>
<g stroke="#fff" stroke-width="1.4"><line x1="842.8" y1="638" x2="842.8" y2="643"/><line x1="846.2" y1="638" x2="846.2" y2="643"/><line x1="849.6" y1="638" x2="849.6" y2="643"/></g>
<line x1="731.1" y1="645.2" x2="731.1" y2="689.2" stroke="#acb8d1" stroke-width="1.5"/>
<rect x="727.0" y="654.4" width="8.2" height="25.6" rx="2.4" fill="#fff" stroke="#acb8d1" stroke-width="1.4"/>
<line x1="960.9" y1="645.2" x2="960.9" y2="689.2" stroke="#acb8d1" stroke-width="1.5"/>
<rect x="956.8" y="654.4" width="8.2" height="25.6" rx="2.4" fill="#fff" stroke="#acb8d1" stroke-width="1.4"/>
</g>
<text class="tt" y="732.8"><tspan x="63.8" textLength="55.2" lengthAdjust="spacingAndGlyphs">BTC</tspan> <tspan x="127.6" textLength="119.9" lengthAdjust="spacingAndGlyphs">Funding</tspan> <tspan x="253.5" textLength="82.7" lengthAdjust="spacingAndGlyphs">Rates</tspan> <tspan x="345.0" textLength="101.5" lengthAdjust="spacingAndGlyphs">History</tspan> <tspan x="457.3" textLength="73.2" lengthAdjust="spacingAndGlyphs">USDT</tspan> <tspan x="542.1" textLength="28.4" lengthAdjust="spacingAndGlyphs">or</tspan> <tspan x="581.6" textLength="61.9" lengthAdjust="spacingAndGlyphs">USD</tspan> <tspan x="653.7" textLength="133.6" lengthAdjust="spacingAndGlyphs">Margined</tspan> <tspan x="795.3" textLength="16.1" lengthAdjust="spacingAndGlyphs">8</tspan> <tspan x="817.5" textLength="85.2" lengthAdjust="spacingAndGlyphs">hours</tspan></text>
<rect x="987" y="0" width="3" height="762" fill="#000"/>
</svg>
</body></html>
